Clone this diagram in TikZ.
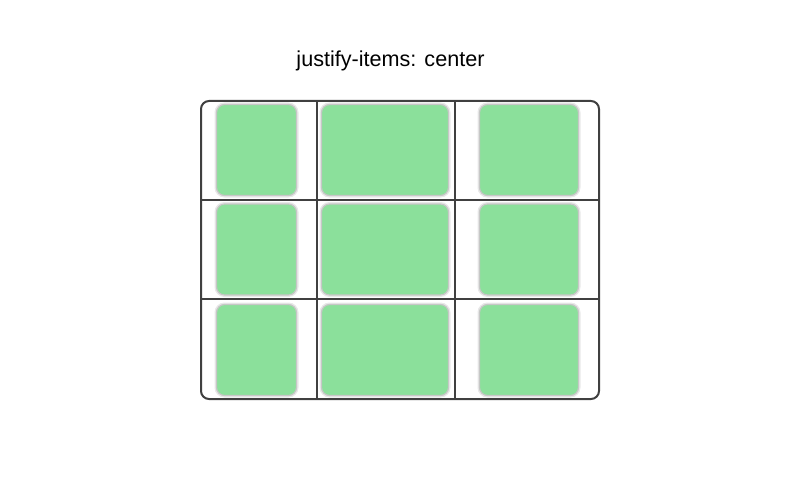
\documentclass[tikz,border=0pt]{standalone}
\usepackage{fontspec}
\setmainfont{Liberation Sans}
\usetikzlibrary{positioning}
\definecolor{itemgreen}{RGB}{139,224,155}
\definecolor{gridline}{RGB}{64,64,64}
\tikzset{
  gridframe/.style={draw=gridline, line width=2pt, rounded corners=8pt},
  gridrule/.style={draw=gridline, line width=2pt},
  griditem/.style={fill=itemgreen, rounded corners=8pt, inner sep=0pt,
    minimum height=91pt,
    preaction={draw=black!30, line width=4pt, opacity=0.3},
    draw=black!22, line width=1.2pt},
}
\begin{document}
\begin{tikzpicture}[x=1pt, y=-1pt]
  \useasboundingbox (0,0) rectangle (800,500);
  \node[font=\fontsize{21.6}{26}\selectfont] (title) at (390.5,60.5) {justify-items: center};
  % grid items, one per cell
  \foreach \r/\y in {1/150, 2/249.5, 3/350}{
    \foreach \c/\x/\w in {1/256.5/80, 2/385/127, 3/529/99}{
      \node[griditem, minimum width=\w pt] (item-\r-\c) at (\x,\y) {};
    }
  }
  % grid container and tracks
  \draw[gridframe] (201,101) rectangle (599,399);
  \foreach \x in {317, 455}{
    \draw[gridrule] (\x,101) -- (\x,399);
  }
  \foreach \y in {200, 299}{
    \draw[gridrule] (201,\y) -- (599,\y);
  }
\end{tikzpicture}
\end{document}
